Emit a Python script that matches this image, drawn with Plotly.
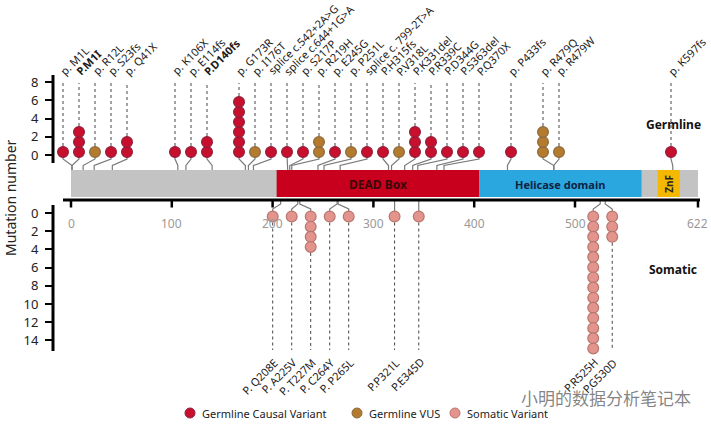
import plotly.graph_objects as go

# ---------------- data ----------------
protein_length = 622
x_ticks = [0, 100, 200, 300, 400, 500, 622]

germ_labels = ["p. M1L", "P.M1I", "p. R12L", "p. S23fs", "p. Q41X", "p. K106X", "p. E114fs",
               "P.D140fs", "p. G173R", "p. I176T", "splice c.542+2A>G", "splice c.644+1G>A",
               "p. S217P", "p. R219H", "p. E245G", "p. P251L", "splice c. 799-2T>A", "P.H315fs",
               "P.V318L", "P.K331del", "P.R339C", "P.D344G", "P.S363del", "P.Q370X", "p. P433fs",
               "p. R479Q", "p. R479W", "p. K597fs"]
germ_pos = [1, 1, 12, 23, 41, 106, 114, 140, 173, 176, 181, 215, 217, 219, 245, 251, 267, 315,
            318, 331, 339, 344, 363, 370, 433, 479, 479, 597]
germ_count = [1, 3, 1, 1, 2, 1, 1, 2, 6, 1, 1, 1, 1, 2, 1, 1, 1, 1, 1, 3, 2, 1, 1, 1, 1, 3, 1, 1]
germ_class = ["Causal", "Causal", "VUS", "Causal", "Causal", "Causal", "Causal", "Causal",
              "Causal", "VUS", "Causal", "Causal", "Causal", "VUS", "Causal", "VUS", "Causal",
              "Causal", "VUS", "Causal", "Causal", "Causal", "Causal", "Causal", "Causal",
              "VUS", "VUS", "Causal"]
germ_bold = ["P.M1I", "P.D140fs"]

som_labels = ["P. Q208E", "P. A225V", "P. T227M", "P. C264Y", "P. P265L", "P.P321L", "P.E345D",
              "P.R525H", "P.G530D"]
som_pos = [208, 225, 227, 264, 265, 321, 345, 525, 530]
som_count = [1, 1, 4, 1, 1, 1, 1, 14, 3]

domain_names = ["DEAD Box", "Helicase domain", "ZnF"]
domain_start = [204, 405, 582]
domain_end = [405, 566, 604]

upper_ticks = [0, 2, 4, 6, 8]
lower_ticks = [0, 2, 4, 6, 8, 10, 12, 14]

legend_classes = ["Causal", "VUS", "Somatic"]
legend_names = ["Germline Causal Variant", "Germline VUS", "Somatic Variant"]

# ---------------- layout helpers ----------------
W, H = 711, 429
ML = 53
PLOT_W, PLOT_H = W - ML, H
X0_PX, PX_PER_AA = 71.0, 1.008           # where aa 0 sits, scale
x_range = [(ML - X0_PX) / PX_PER_AA, (W - X0_PX) / PX_PER_AA]
U0_PX, PX_PER_U = 155.0, 9.1             # upper count 0 pixel row


def U(py):
    return (U0_PX - py) / PX_PER_U


def XA(px):
    return (px - X0_PX) / PX_PER_AA


y_range = [U(PLOT_H), U(0)]
LOWER_OFF = (213 - U0_PX) / PX_PER_U

colors = {"Causal": "#C8102E", "VUS": "#B47A2E", "Somatic": "#E3948C"}
edge = {"Causal": "#8E1E3A", "VUS": "#8A6A40", "Somatic": "#B8766E"}

# germline display slots (spread onto a grid)
slot_a0 = XA(63)
slot_g = 16 / PX_PER_AA
germ_disp = []
prev = -1
for p in germ_pos:
    s = int((p - slot_a0) / slot_g + 0.25)
    s = max(s, prev + 1)
    prev = s
    germ_disp.append(slot_a0 + s * slot_g)

# somatic display positions (cluster spreading)
gap = 19 / PX_PER_AA


def cl_start(cl):
    return sum(som_pos[j] - gap * k for k, j in enumerate(cl)) / len(cl)


clusters = []
for i, p in enumerate(som_pos):
    clusters.append([i])
    while len(clusters) > 1:
        a, b = clusters[-2], clusters[-1]
        if cl_start(b) < cl_start(a) + gap * len(a):
            clusters[-2:] = [a + b]
        else:
            break
som_disp = [0] * len(som_pos)
for cl in clusters:
    c = cl_start(cl)
    for k, j in enumerate(cl):
        som_disp[j] = c + gap * k

fig = go.Figure()

# connectors
cx, cy = [], []
for p, d in zip(germ_pos, germ_disp):
    cx += [d, d, p, p, None]
    cy += [U(156), U(159), U(165.5), U(170), None]
for p, d in zip(som_pos, som_disp):
    cx += [p, p, d, d, None]
    cy += [U(201), U(204), U(209), U(213), None]
fig.add_trace(go.Scatter(x=cx, y=cy, mode="lines", line=dict(color="#7a7a7a", width=1.2),
                         hoverinfo="skip", showlegend=False))

# dotted stems
dx, dy = [], []
for d, n in zip(germ_disp, germ_count):
    top = 0.33 + 1.099 * (n - 1)
    dx += [d, d, None]
    dy += [top, U(83), None]
for d, n in zip(som_disp, som_count):
    bot = U(216.5 + 10.15 * (n - 1))
    dx += [d, d, None]
    dy += [bot, U(350), None]
fig.add_trace(go.Scatter(x=dx, y=dy, mode="lines", line=dict(color="#444444", width=1, dash="dot"),
                         hoverinfo="skip", showlegend=False))

# dots
for cls in ["Causal", "VUS"]:
    xs, ys = [], []
    for d, n, c in zip(germ_disp, germ_count, germ_class):
        if c == cls:
            for i in range(n):
                xs.append(d)
                ys.append(0.33 + 1.099 * i)
    fig.add_trace(go.Scatter(x=xs, y=ys, mode="markers", showlegend=False,
                             marker=dict(size=10.8, color=colors[cls], line=dict(color=edge[cls], width=1.2))))
xs, ys = [], []
for d, n in zip(som_disp, som_count):
    for i in range(n):
        xs.append(d)
        ys.append(U(216.5 + 10.15 * i))
fig.add_trace(go.Scatter(x=xs, y=ys, mode="markers", showlegend=False,
                         marker=dict(size=10.8, color=colors["Somatic"], line=dict(color=edge["Somatic"], width=1.2))))

# legend (drawn in place)
leg_px = [190, 357, 455]
fig.add_trace(go.Scatter(x=[XA(p) for p in leg_px], y=[U(413)] * 3, mode="markers", showlegend=False,
                         hoverinfo="skip",
                         marker=dict(size=10, color=[colors[c] for c in legend_classes],
                                     line=dict(color=[edge[c] for c in legend_classes], width=1))))

shapes = []
# protein bar
shapes.append(dict(type="rect", xref="x", yref="y", x0=0, x1=protein_length, y0=U(197), y1=U(170),
                   fillcolor="#C3C3C3", line=dict(width=0), layer="below"))
dom_fill = ["#C8001E", "#2AA7DF", "#F4B800"]
for s, e, f in zip(domain_start, domain_end, dom_fill):
    shapes.append(dict(type="rect", xref="x", yref="y", x0=s, x1=e, y0=U(197), y1=U(170),
                       fillcolor=f, line=dict(width=0), layer="below"))
# protein axis
shapes.append(dict(type="line", xref="x", yref="y", x0=XA(63), x1=XA(700), y0=U(200), y1=U(200),
                   line=dict(color="black", width=3)))
for t in x_ticks:
    shapes.append(dict(type="line", xref="x", yref="y", x0=t, x1=t, y0=U(200), y1=U(207.5),
                       line=dict(color="black", width=2.5)))
# y axis lines
shapes.append(dict(type="line", xref="paper", yref="y", x0=0, x1=0, y0=U(75), y1=U(163),
                   line=dict(color="black", width=3)))
shapes.append(dict(type="line", xref="paper", yref="y", x0=0, x1=0, y0=U(205), y1=U(351),
                   line=dict(color="black", width=3)))

ann = []
lab_font = dict(family="Noto Sans", size=11, color="#1a1a1a")
for lab, d in zip(germ_labels, germ_disp):
    txt = "<b>%s</b>" % lab if lab in germ_bold else lab
    ann.append(dict(x=d, y=U(81), text=txt, textangle=-45, showarrow=False, xanchor="left",
                    yanchor="bottom", xshift=-9, font=lab_font))
for lab, d in zip(som_labels, som_disp):
    ann.append(dict(x=d, y=U(352), text=lab, textangle=-45, showarrow=False, xanchor="right",
                    yanchor="top", xshift=11, font=lab_font))
for t in x_ticks:
    ann.append(dict(x=t, y=U(223), text=str(t), showarrow=False,
                    font=dict(family="Noto Sans", size=12, color="#999999")))
dom_txt = ["#3A0808", "#0E2244", "#222222"]
dom_size = [12, 11, 10]
for nm, s, e, c, fs in zip(domain_names, domain_start, domain_end, dom_txt, dom_size):
    ann.append(dict(x=(s + e) / 2, y=U(184), text="<b>%s</b>" % nm, showarrow=False,
                    textangle=-90 if nm == "ZnF" else 0,
                    font=dict(family="Noto Sans", size=fs, color=c)))
ann.append(dict(x=XA(673), y=U(124), text="<b>Germline</b>", showarrow=False, xanchor="center",
                font=dict(family="Noto Sans", size=12, color="#111111")))
ann.append(dict(x=XA(673), y=U(269), text="<b>Somatic</b>", showarrow=False, xanchor="center",
                font=dict(family="Noto Sans", size=12, color="#111111")))
ann.append(dict(xref="paper", x=(10 - ML) / PLOT_W, y=U(198), text="Mutation number", textangle=-90,
                xanchor="center", yanchor="middle",
                showarrow=False, font=dict(family="Noto Sans", size=14, color="#222222")))
ann.append(dict(x=XA(606), y=U(397), xanchor="center", yanchor="middle",
                text="小明的数据分析笔记本", showarrow=False,
                font=dict(family="Noto Sans CJK SC", size=17, color="rgba(110,110,110,0.85)")))
for p, nm in zip(leg_px, legend_names):
    ann.append(dict(x=XA(p + 10), y=U(413), text=nm, showarrow=False, xanchor="left", yanchor="middle",
                    font=dict(family="Noto Sans", size=11, color="#222222")))

tickvals = upper_ticks + [-LOWER_OFF - v for v in lower_ticks]
ticktext = [str(v) for v in upper_ticks] + [str(v) for v in lower_ticks]

fig.update_layout(
    width=W, height=H, margin=dict(l=ML, r=0, t=0, b=0),
    plot_bgcolor="white", paper_bgcolor="white",
    xaxis=dict(range=x_range, visible=False, fixedrange=True),
    yaxis=dict(range=y_range, tickvals=tickvals, ticktext=ticktext, ticks="outside", ticklen=7,
               tickwidth=2, tickcolor="black", showline=False, showgrid=False, zeroline=False,
               ticklabelstandoff=4, automargin=False, fixedrange=True,
               tickfont=dict(family="Noto Sans", size=13, color="#222222")),
    shapes=shapes, annotations=ann,
    showlegend=False,
)
fig.write_html("out.html", config={"displayModeBar": False},
               post_script="document.body.style.margin='0';")
